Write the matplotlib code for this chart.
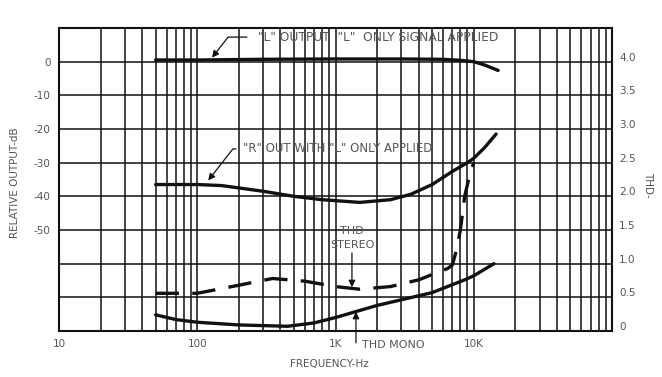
#!/usr/bin/env python3

import numpy as np
import matplotlib
matplotlib.use('Agg')
import matplotlib.pyplot as plt
from matplotlib.transforms import ScaledTranslation

# "L" output with "L" only signal applied (dB)
freq_l = [50, 100, 300, 1000, 3000, 6000, 8000, 10000, 12000, 15000]
l_out = [0.5, 0.5, 0.7, 0.8, 0.8, 0.7, 0.4, 0.0, -1.0, -2.6]

# "R" out with "L" only applied (dB)
freq_r = [50, 100, 150, 300, 500, 800, 1500, 2500, 3500, 5000, 7000, 9000, 10000, 12000, 14500]
r_out = [-36.5, -36.5, -36.8, -38.5, -40.0, -41.0, -41.8, -41.0, -39.4, -36.5, -32.6, -30.0, -28.7, -25.5, -21.5]

# THD stereo (%), right axis
freq_ts = [50, 100, 200, 350, 600, 1000, 1500, 2500, 4000, 6500, 7000, 7500, 8000, 8600, 9300, 10000]
thd_st = [0.56, 0.56, 0.68, 0.78, 0.74, 0.66, 0.62, 0.66, 0.76, 0.93, 0.98, 1.2, 1.5, 2.0, 2.3, 2.5]

# THD mono (%), right axis
freq_tm = [50, 70, 100, 200, 450, 700, 1000, 2000, 5000, 8600, 10000, 14000]
thd_mo = [0.24, 0.17, 0.13, 0.09, 0.07, 0.12, 0.20, 0.38, 0.57, 0.76, 0.82, 1.0]

db_ticks = [0, -10, -20, -30, -40, -50]
thd_ticks = [0, 0.5, 1.0, 1.5, 2.0, 2.5, 3.0, 3.5, 4.0]
x_ticks = [10, 100, 1000, 10000]
x_labels = ['10', '100', '1K', '10K']

plt.rcParams['font.family'] = ['DejaVu Sans']
ink = '#111111'
txt = '#555555'

fig = plt.figure(figsize=(6.62, 3.77), dpi=100)
ax = fig.add_axes([59 / 662, 1 - 331 / 377, 553 / 662, 303 / 377])

ax.set_xscale('log')
ax.set_xlim(10, 1e5)
ax.set_ylim(-80, 10)

# grid: every 10 dB and every log minor position
ax.set_yticks(np.arange(-80, 11, 10))
ax.set_yticklabels([str(v) if v in db_ticks else '' for v in np.arange(-80, 11, 10)])
ax.set_xticks(x_ticks)
ax.set_xticklabels(x_labels)
ax.xaxis.set_minor_locator(matplotlib.ticker.LogLocator(base=10, subs=np.arange(2, 10)))
ax.xaxis.set_minor_formatter(matplotlib.ticker.NullFormatter())
ax.grid(which='both', axis='x', color=ink, lw=1.1)
ax.grid(which='major', axis='y', color=ink, lw=1.1)
ax.tick_params(which='both', length=0, colors=txt, labelsize=7.5, pad=6)
for s in ax.spines.values():
    s.set_color(ink)
    s.set_linewidth(1.5)

ax.plot(freq_l, l_out, color=ink, lw=2.4, solid_capstyle='round')
ax.plot(freq_r, r_out, color=ink, lw=2.4, solid_capstyle='round')

ax2 = ax.twinx()
ax2.set_ylim(0, 4.5)
ax2.set_yticks(thd_ticks)
ax2.set_yticklabels(['0'] + ['%.1f' % v for v in thd_ticks[1:]])
ax2.tick_params(length=0, colors=txt, labelsize=7.5, pad=5)
# the scanned labels sit a little above their grid lines
up = ScaledTranslation(0, 5 / 100, fig.dpi_scale_trans)
for lab in ax2.get_yticklabels():
    lab.set_transform(lab.get_transform() + up)
for s in ax2.spines.values():
    s.set_visible(False)

ax2.plot(freq_ts, thd_st, color=ink, lw=2.4, dashes=(7, 4))
ax2.plot(freq_tm, thd_mo, color=ink, lw=2.4, solid_capstyle='round')

fig.text(15 / 662, 1 - 183 / 377, 'RELATIVE OUTPUT-dB', color=txt, fontsize=7.5,
         rotation=90, ha='center', va='center')
fig.text(648 / 662, 1 - 185 / 377, 'THD-', color=txt, fontsize=7.5,
         rotation=270, ha='center', va='center')
fig.text(329 / 662, 1 - 364 / 377, 'FREQUENCY-Hz', color=txt, fontsize=7.5,
         ha='center', va='center')

arrow = dict(arrowstyle='-|>', color=ink, lw=0.9, mutation_scale=10, shrinkA=6, shrinkB=0)
fs = 8.5

ax.annotate('"L" OUTPUT  "L"  ONLY SIGNAL APPLIED', xy=(128, 1.2), xytext=(275, 7.3),
            fontsize=fs + 0.3, color=txt, va='center', ha='left',
            arrowprops=dict(arrow, relpos=(0, 0.5),
                            connectionstyle='angle,angleA=180,angleB=52,rad=0'))
ax.annotate('"R" OUT WITH "L" ONLY APPLIED', xy=(120, -35.3), xytext=(214, -25.9),
            fontsize=fs, color=txt, va='center', ha='left',
            arrowprops=dict(arrow, relpos=(0, 0.5), shrinkA=3,
                            connectionstyle='angle,angleA=180,angleB=52,rad=0'))
ax.text(1315, -52.4, 'THD\nSTEREO', fontsize=fs - 0.5, color=txt, ha='center', va='center',
        linespacing=1.5)
ax.annotate('', xy=(1315, -67.0), xytext=(1315, -56.8),
            arrowprops=dict(arrow, shrinkA=0))
ax.annotate('THD MONO', xy=(1406, -74.3), xytext=(1550, -84.1),
            fontsize=fs - 0.5, color=txt, va='center', ha='left', annotation_clip=False)
ax.annotate('', xy=(1406, -74.3), xytext=(1406, -83.5),
            arrowprops=dict(arrow, shrinkA=0), annotation_clip=False)

fig.savefig('out.png', dpi=100)
